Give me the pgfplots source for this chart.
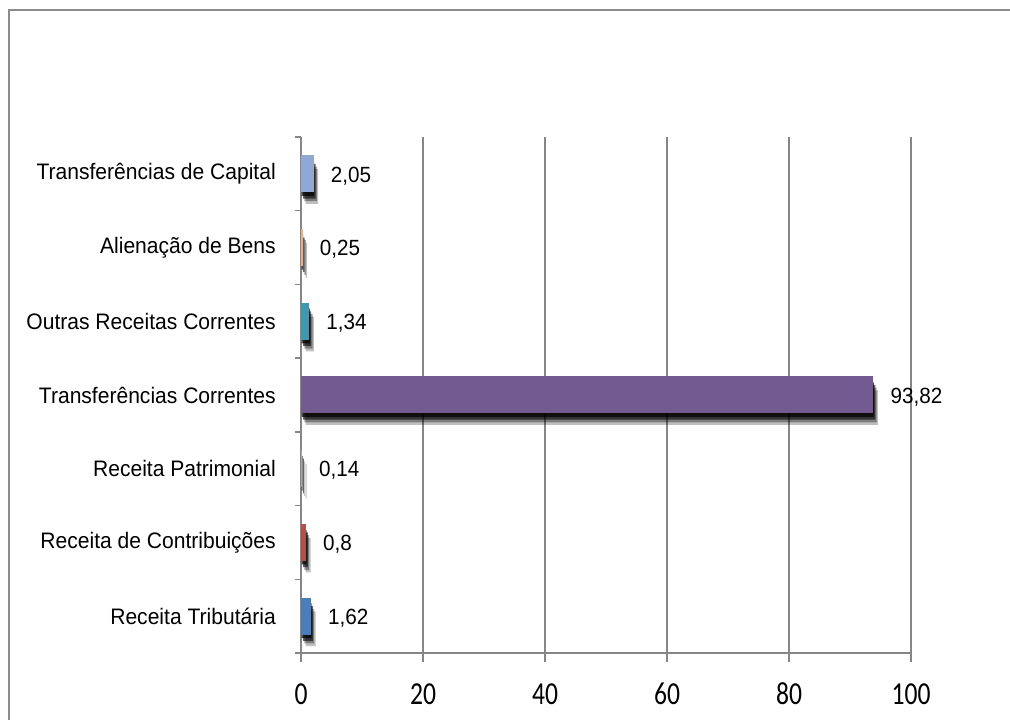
\documentclass[border=0pt]{standalone}
\usepackage{fontspec}
\setmainfont{Liberation Sans}[FakeStretch=0.94]
\newfontfamily\tickfont{Carlito}[FakeStretch=0.8]
\usepackage{pgfplots}
\pgfplotsset{compat=1.18}
\definecolor{gridgray}{HTML}{868686}
\definecolor{framegray}{HTML}{8C8C8C}
\definecolor{cTrib}{HTML}{4A7EBB}
\definecolor{cContr}{HTML}{BE4B48}
\definecolor{cPatr}{HTML}{9BBB59}
\definecolor{cCorr}{HTML}{735A91}
\definecolor{cOutr}{HTML}{3F98AE}
\definecolor{cAlien}{HTML}{E8B08A}
\definecolor{cCap}{HTML}{8EA9D5}
\begin{document}
\begin{tikzpicture}
\useasboundingbox (0,0) rectangle (757.5pt,540pt);
\draw[framegray, line width=1.5pt] (6.75pt,-5pt) -- (6.75pt,532.5pt) -- (757.5pt,532.5pt);
\begin{axis}[
  at={(225.75pt,50.25pt)}, anchor=south west,
  scale only axis, width=457.5pt, height=387pt,
  xmin=0, xmax=100, ymin=-0.5, ymax=6.5,
  xbar, bar width=27.75pt, bar shift=0pt,
  xtick={0,20,...,100},
  ytick={0,...,6},
  yticklabels={Receita Tributária, Receita de Contribuições, Receita Patrimonial, Transferências Correntes, Outras Receitas Correntes, Alienação de Bens, Transferências de Capital},
  minor ytick={-0.5,0.5,...,6.5},
  axis x line*=bottom, axis y line*=left,
  axis line style={gridgray, line width=1.1pt, -},
  xmajorgrids, major grid style={gridgray, line width=1.1pt},
  tick style={gridgray, line width=1.1pt},
  major tick length=6.75pt, minor tick length=4.5pt,
  tick align=outside,
  major y tick style={draw=none},
  /pgf/number format/assume math mode=true,
  xticklabel style={font=\tickfont\fontsize{24pt}{26pt}\selectfont, inner sep=0pt, anchor=base, yshift=-32pt},
  yticklabel style={font=\fontsize{16.8pt}{19pt}\selectfont, inner sep=0pt, anchor=east, xshift=-12pt},
  point meta=x,
  every node near coord/.append style={font=\fontsize{16.5pt}{19pt}\selectfont, inner sep=0pt, anchor=west, xshift=12.75pt, yshift=-1.5pt, text=black},
  lbl/.style={nodes near coords={\pgfmathprintnumber[use comma]{\pgfplotspointmeta}}},
]
% soft shadows (translucent layers)
\addplot[fill=black, draw=none, opacity=0.25, bar width=26pt, bar shift=-9.5pt, xshift=3.5pt, forget plot]
  coordinates {(1.62,0) (0.8,1) (0.14,2) (93.82,3) (1.34,4) (0.25,5) (2.05,6)};
\addplot[fill=black, draw=none, opacity=0.35, bar width=26pt, bar shift=-7.5pt, xshift=2.5pt, forget plot]
  coordinates {(1.62,0) (0.8,1) (0.14,2) (93.82,3) (1.34,4) (0.25,5) (2.05,6)};
\addplot[fill=black, draw=none, opacity=0.6, bar width=26pt, bar shift=-5.5pt, xshift=1.5pt, forget plot]
  coordinates {(1.62,0) (0.8,1) (0.14,2) (93.82,3) (1.34,4) (0.25,5) (2.05,6)};
\addplot[fill=black, draw=none, opacity=0.7, bar width=26pt, bar shift=-3.5pt, xshift=0.5pt, forget plot]
  coordinates {(1.62,0) (0.8,1) (0.14,2) (93.82,3) (1.34,4) (0.25,5) (2.05,6)};
% bars
\addplot[fill=cTrib, draw=none, lbl] coordinates {(1.62,0)};
\addplot[fill=cContr, draw=none, lbl] coordinates {(0.8,1)};
\addplot[fill=cPatr, draw=none, lbl] coordinates {(0.14,2)};
\addplot[fill=cCorr, draw=none, lbl] coordinates {(93.82,3)};
\addplot[fill=cOutr, draw=none, lbl] coordinates {(1.34,4)};
\addplot[fill=cAlien, draw=none, lbl] coordinates {(0.25,5)};
\addplot[fill=cCap, draw=none, lbl] coordinates {(2.05,6)};
\end{axis}
\end{tikzpicture}
\end{document}
